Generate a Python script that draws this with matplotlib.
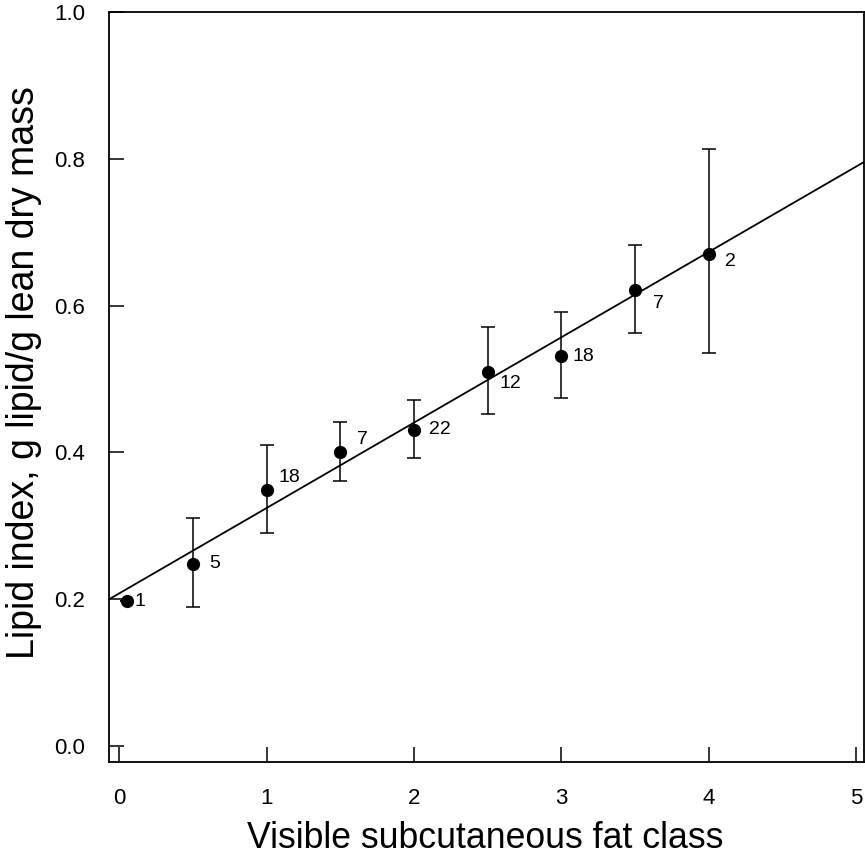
import matplotlib
matplotlib.use("Agg")
import matplotlib.pyplot as plt
import numpy as np

plt.rcParams['font.family'] = ['Liberation Sans', 'DejaVu Sans']

# fat class vs lipid index (means with error bars), sample sizes
fat_class = [0.05, 0.5, 1.0, 1.5, 2.0, 2.5, 3.0, 3.5, 4.0]
lipid_mean = [0.197, 0.248, 0.349, 0.400, 0.431, 0.510, 0.531, 0.621, 0.671]
err_low = [0.197, 0.190, 0.290, 0.361, 0.392, 0.453, 0.474, 0.563, 0.535]
err_high = [0.197, 0.310, 0.410, 0.442, 0.471, 0.571, 0.591, 0.683, 0.814]
sample_n = ["1", "5", "18", "7", "22", "12", "18", "7", "2"]

# regression line
slope = 0.1163
intercept = 0.208

# label offsets (pixels) for the sample sizes
label_dx = [13, 22, 23, 22, 26, 23, 22, 23, 22]
label_dy = [0, 0, 12, 13, 0, -12, 0, -13, -8]

fig = plt.figure(figsize=(8.65, 8.68), dpi=100)
ax = fig.add_axes([0.126, 0.122, 0.873, 0.864])

xs = np.array([-0.07, 5.055])
ax.plot(xs, intercept + slope * xs, color="black", lw=1.3)

lo = np.array(lipid_mean) - np.array(err_low)
hi = np.array(err_high) - np.array(lipid_mean)
ax.errorbar(fat_class, lipid_mean, yerr=[lo, hi], fmt="o", color="black",
            ms=8.5, capsize=4.8, elinewidth=1.1, capthick=1.1)

for x, y, t, dx, dy in zip(fat_class, lipid_mean, sample_n, label_dx, label_dy):
    ax.annotate(t, (x, y), xytext=(dx, dy), textcoords="offset pixels",
                ha="center", va="center", fontsize=14)

ax.set_xlim(-0.07, 5.055)
ax.set_ylim(-0.022, 1.0)
ax.set_xticks([0, 1, 2, 3, 4, 5])
ax.set_yticks([0.0, 0.2, 0.4, 0.6, 0.8, 1.0])
ax.set_yticklabels(["0.0", "0.2", "0.4", "0.6", "0.8", "1.0"])
ax.tick_params(direction="in", length=11, width=1.1, labelsize=16)
ax.tick_params(axis="x", pad=19)
ax.tick_params(axis="y", pad=17)
for s in ax.spines.values():
    s.set_linewidth(1.3)

ax.set_xlabel("Visible subcutaneous fat class", fontsize=25.7)
ax.set_ylabel("Lipid index, g lipid/g lean dry mass", fontsize=27)
ax.xaxis.set_label_coords(0.498, -0.078)
ax.yaxis.set_label_coords(-0.089, 0.52)

fig.savefig("out.png", dpi=100)
